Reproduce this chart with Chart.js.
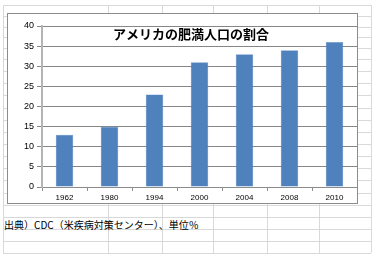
<!DOCTYPE html>
<html>
<head>
<meta charset="utf-8">
<script src="https://cdn.jsdelivr.net/npm/chart.js@4"></script>
<style>
  body { margin: 0; background: #fff; }
  #sheet { position: relative; width: 375px; height: 257px; overflow: hidden; background: #fff; }
  .hl, .vl { position: absolute; background: #d9d9d9; }
  .hl { left: 3px; width: 368px; height: 1px; }
  .vl { top: 5px; width: 1px; height: 248px; }
  #box { position: absolute; left: 7px; top: 13px; width: 349px; height: 189px; border: 1px solid #8c8c8c; background: #fff; }
  #chart { display: block; }
  #note { position: absolute; left: 4px; top: 217px; font: 10px "Noto Sans CJK JP", sans-serif; color: #000; white-space: nowrap; }
</style>
</head>
<body>
<div id="sheet">
  <div id="box"><canvas id="chart" width="349" height="189"></canvas></div>
  <div id="note">出典）CDC（米疾病対策センター）、単位％</div>
</div>
<script>
// データ
const years = ['1962', '1980', '1994', '2000', '2004', '2008', '2010'];
const obesity = [13, 15, 23, 31, 33, 34, 36];
const yTicks = [0, 5, 10, 15, 20, 25, 30, 35, 40];
const chartTitle = 'アメリカの肥満人口の割合';

// 背景のセル罫線
const sheet = document.getElementById('sheet');
const rows = [5, 16, 27, 37, 48, 59, 71, 83, 95, 108, 120, 132, 144, 156, 168, 180, 193, 205, 217, 229, 241, 253];
const cols = [3, 108, 162, 213, 267, 319, 371];
rows.forEach(y => {
    const d = document.createElement('div');
    d.className = 'hl';
    d.style.top = y + 'px';
    sheet.insertBefore(d, sheet.firstChild);
});
cols.forEach(x => {
    const d = document.createElement('div');
    d.className = 'vl';
    d.style.left = x + 'px';
    sheet.insertBefore(d, sheet.firstChild);
});

// タイトル（グラフ上に重ねる）
const titlePlugin = {
    id: 'overlayTitle',
    afterDraw(chart) {
        const ctx = chart.ctx;
        ctx.save();
        ctx.font = 'bold 13px "Noto Sans CJK JP", sans-serif';
        ctx.fillStyle = '#000';
        ctx.textAlign = 'center';
        ctx.textBaseline = 'middle';
        ctx.fillText(chartTitle, 183, 20);
        ctx.restore();
    }
};

new Chart(document.getElementById('chart'), {
    type: 'bar',
    data: {
        labels: years,
        datasets: [{
            data: obesity,
            backgroundColor: '#4f81bd',
            borderColor: '#6a93c8',
            borderWidth: 0.5,
            categoryPercentage: 1,
            barPercentage: 0.39
        }]
    },
    options: {
        responsive: false,
        animation: false,
        devicePixelRatio: 1,
        layout: { padding: { top: 12, right: 0, left: 0, bottom: 0 } },
        plugins: { legend: { display: false }, tooltip: { enabled: false }, title: { display: false } },
        scales: {
            x: {
                grid: { display: true, drawOnChartArea: false, offset: true, color: '#8c8c8c', tickLength: 4 },
                border: { color: '#8c8c8c', width: 1 },
                ticks: { color: '#000', font: { family: 'Liberation Sans', size: 8 }, padding: 2, maxRotation: 0 },
                afterFit(axis) { axis.height = 16; }
            },
            y: {
                min: 0,
                max: 40,
                afterBuildTicks(axis) { axis.ticks = yTicks.map(v => ({ value: v })); },
                grid: { color: '#868686', lineWidth: 1, tickLength: 5 },
                border: { color: '#b4b4b4', width: 2 },
                ticks: { color: '#000', font: { family: 'Liberation Sans', size: 9 }, padding: 3 },
                afterFit(axis) { axis.width = 34; }
            }
        }
    },
    plugins: [titlePlugin]
});
</script>
</body>
</html>
